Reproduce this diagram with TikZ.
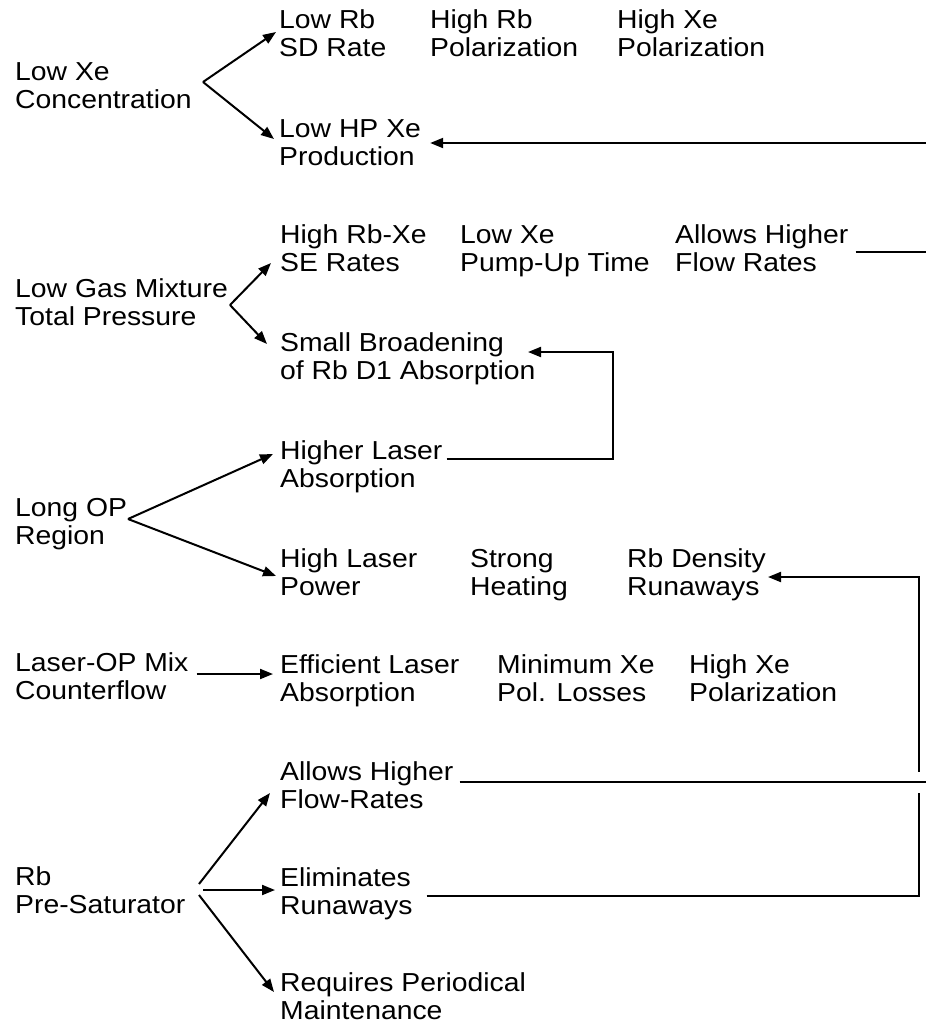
\documentclass[tikz,border=0pt]{standalone}
\usepackage{fontspec}
\setmainfont[FakeStretch=1.09]{Liberation Sans}
\usetikzlibrary{arrows.meta}
% two-line label whose baseline is the baseline of its first line
\newcommand{\twoline}[2]{\begin{tabular}[t]{@{}l@{}}#1\\#2\end{tabular}}

\begin{document}
\begin{tikzpicture}[x=1pt,y=-1pt,
  lbl/.style={anchor=base west, inner sep=0pt, font=\fontsize{26}{28.7}\selectfont},
  arr/.style={line width=2pt, -{Triangle[length=13pt,width=10pt]}},
  wire/.style={line width=2pt}]
\fill[white] (0,0) rectangle (926,1028);
\useasboundingbox (0,0) rectangle (926,1028);

% ---- Low Xe concentration
\node[lbl] (lowxe)   at (15,80)   {\twoline{Low Xe}{Concentration}};
\node[lbl] (lowrb)   at (279,28)  {\twoline{Low Rb}{SD Rate}};
\node[lbl] (hirbpol) at (430,28)  {\twoline{High Rb}{Polarization}};
\node[lbl] (hixepol) at (617,28)  {\twoline{High Xe}{Polarization}};
\node[lbl] (hpxe)    at (279,137) {\twoline{Low HP Xe}{Production}};

% ---- Low total pressure
\node[lbl] (gas)     at (15,297)  {\twoline{Low Gas Mixture}{Total Pressure}};
\node[lbl] (serate)  at (280,243) {\twoline{High Rb-Xe}{SE Rates}};
\node[lbl] (pumpup)  at (460,243) {\twoline{Low Xe}{Pump-Up Time}};
\node[lbl] (flowA)   at (675,243) {\twoline{Allows Higher}{Flow Rates}};
\node[lbl] (broad)   at (280,351) {\twoline{Small Broadening}{of Rb D1 Absorption}};

% ---- Long optical pumping region
\node[lbl] (opreg)   at (15,516)  {\twoline{Long OP}{Region}};
\node[lbl] (laserabs) at (280,459) {\twoline{Higher Laser}{Absorption}};
\node[lbl] (power)   at (280,567) {\twoline{High Laser}{Power}};
\node[lbl] (heat)    at (470,567) {\twoline{Strong}{Heating}};
\node[lbl] (runaway) at (627,567) {\twoline{Rb Density}{Runaways}};

% ---- Counterflow
\node[lbl] (mix)     at (15,671)  {\twoline{Laser-OP Mix}{Counterflow}};
\node[lbl] (effabs)  at (280,673) {\twoline{Efficient Laser}{Absorption}};
\node[lbl] (minloss) at (497,673) {\twoline{Minimum Xe}{Pol. Losses}};
\node[lbl] (hixeB)   at (689,673) {\twoline{High Xe}{Polarization}};

% ---- Rb pre-saturator
\node[lbl] (presat)  at (15,885)  {\twoline{Rb}{Pre-Saturator}};
\node[lbl] (flowB)   at (280,780) {\twoline{Allows Higher}{Flow-Rates}};
\node[lbl] (elim)    at (280,886) {\twoline{Eliminates}{Runaways}};
\node[lbl] (maint)   at (280,991) {\twoline{Requires Periodical}{Maintenance}};

% fork points
\coordinate (fkXe)  at (203,82);
\coordinate (fkGas) at (230,305);
\coordinate (fkOP)  at (128,519);
\coordinate (fkRbU) at (199,884);
\coordinate (fkRbM) at (203,890);
\coordinate (fkRbD) at (199,895);

% right-hand rim and knees
\coordinate (rimA)  at (926,143);
\coordinate (rimB)  at (926,252);
\coordinate (rimC)  at (926,782);
\coordinate (kneeA) at (613,352);
\coordinate (kneeB) at (919,577);
\coordinate (kneeC) at (919,896);
\coordinate (cross) at (919,782);

% branching arrows
\draw[arr] (fkXe) -- ([shift={(-3,4)}]lowrb.base west);
\draw[arr] (fkXe) -- ([shift={(-5,2)}]hpxe.base west);
\draw[arr] (fkGas) -- ([shift={(-9,20)}]serate.base west);
\draw[arr] (fkGas) -- ([shift={(-13,-7)}]broad.base west);
\draw[arr] (fkOP) -- ([shift={(-7,-5)}]laserabs.base west);
\draw[arr] (fkOP) -- ([shift={(-4,9)}]power.base west);
\draw[arr] ([shift={(8,3)}]mix.base east) -- ([shift={(-7,1)}]effabs.base west);
\draw[arr] (fkRbU) -- ([shift={(-10,13)}]flowB.base west);
\draw[arr] (fkRbM) -- ([shift={(-5,4)}]elim.base west);
\draw[arr] (fkRbD) -- ([shift={(-6,1)}]maint.base west);

% feedback lines
\draw[arr] (rimA) -- ([shift={(9,6)}]hpxe.base east);
\draw[wire] ([shift={(7,9)}]flowA.base east) -- (rimB);
\draw[arr] ([xshift=4]laserabs.base east) -| (kneeA) -- ([shift={(248,1)}]broad.base west);
\draw[arr] ([shift={(14,10)}]elim.base east) -- (kneeC) -- (kneeB)
           -- ([shift={(2,10)}]runaway.base east);
% the flow-rate line passes over the vertical return line
\draw[white, line width=21pt] ([xshift=-3]cross) -- ([xshift=3]cross);
\draw[wire] ([shift={(6,2)}]flowB.base east) -- (rimC);
\end{tikzpicture}
\end{document}
